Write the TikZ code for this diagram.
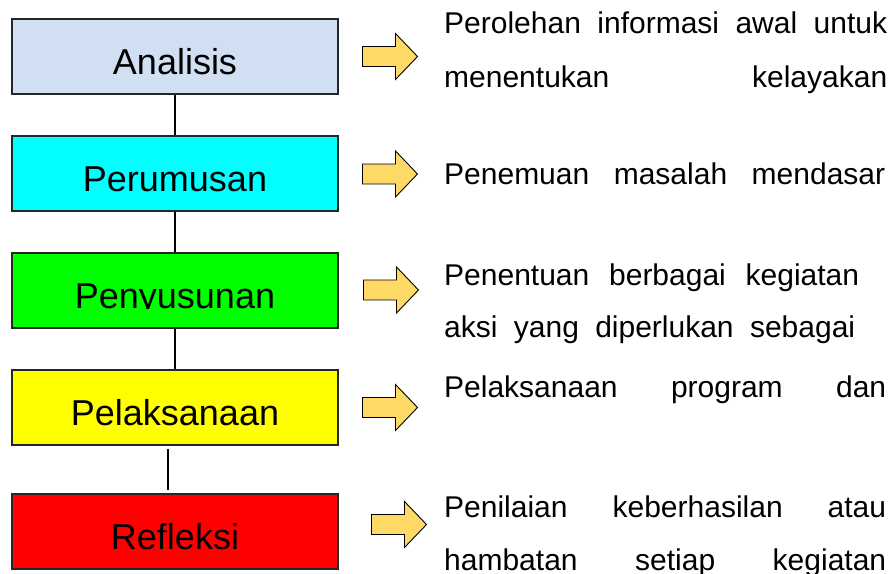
\documentclass[tikz,border=0pt]{standalone}
\usepackage{fontspec}
\setmainfont{Liberation Sans}
\usetikzlibrary{calc}
\definecolor{boxblue}{HTML}{D0E0F2}
\definecolor{boxcyan}{HTML}{00FFFF}
\definecolor{boxgreen}{HTML}{00FF00}
\definecolor{boxyellow}{HTML}{FFFF00}
\definecolor{boxred}{HTML}{FF0000}
\definecolor{arrowgold}{HTML}{FFD966}

\begin{document}
\begin{tikzpicture}[x=1pt,y=-1pt,
  stage/.style={draw=black!85,line width=1.3pt,minimum width=326pt,minimum height=75pt,
    inner sep=0pt,text height=47pt,text depth=12pt,font=\fontsize{36}{40}\selectfont},
  link/.style={line width=1.1pt},
  desc/.style={anchor=base west,inner sep=0pt,font=\fontsize{30}{34}\selectfont},
  blockarrow/.style={fill=arrowgold,draw=black,line width=.9pt,line join=miter}]
\useasboundingbox (0,0) rectangle (893,573);
% stages
\node[stage,fill=boxblue] (ana) at (175,56.5) {Analisis};
\node[stage,fill=boxcyan] (per) at (175,173.5) {Perumusan};
\node[stage,fill=boxgreen] (pen) at (175,290.5) {};
\begin{scope}
\clip (0,253) rectangle (893,308.3);
\node[stage,draw=none] (pentext) at (pen) {Penyusunan};
\end{scope}
\node[stage,fill=boxyellow] (pel) at (175,407.5) {Pelaksanaan};
\node[stage,fill=boxred] (ref) at (175,531.5) {Refleksi};
\draw[link] (ana) -- (per);
\draw[link] (per) -- (pen);
\draw[link] (pen) -- (pel);
\draw[link] ($(pel.south)+(-7,3)$) coordinate (gapa) -- ($(ref.north)+(-7,-3)$) coordinate (gapb);
% arrows
\foreach \cx/\cy in {389.5/56.5,389.5/174,390.5/290,389.5/407.5,398.5/524.5}
  \draw[blockarrow] (\cx-27,\cy-10) -- (\cx+6,\cy-10) -- (\cx+6,\cy-23) -- (\cx+28,\cy)
    -- (\cx+6,\cy+23) -- (\cx+6,\cy+10) -- (\cx-27,\cy+10) -- cycle;
% descriptions
\node[desc] (d1a) at (444,33) {\makebox[443pt][s]{Perolehan informasi awal untuk}};
\node[desc] (d1b) at (444,87) {\makebox[443pt][s]{menentukan kelayakan}};
\node[desc] (d2a) at (444,184) {\makebox[441pt][s]{Penemuan masalah mendasar}};
\node[desc] (d3a) at (444,285) {\makebox[415pt][s]{Penentuan berbagai kegiatan}};
\node[desc] (d3b) at (444,337) {\makebox[411pt][s]{aksi yang diperlukan sebagai}};
\node[desc] (d4a) at (444,397) {\makebox[442pt][s]{Pelaksanaan program dan}};
\node[desc] (d5a) at (444,517) {\makebox[442pt][s]{Penilaian keberhasilan atau}};
\node[desc] (d5b) at (444,570) {\makebox[442pt][s]{hambatan setiap kegiatan}};
\end{tikzpicture}
\end{document}
